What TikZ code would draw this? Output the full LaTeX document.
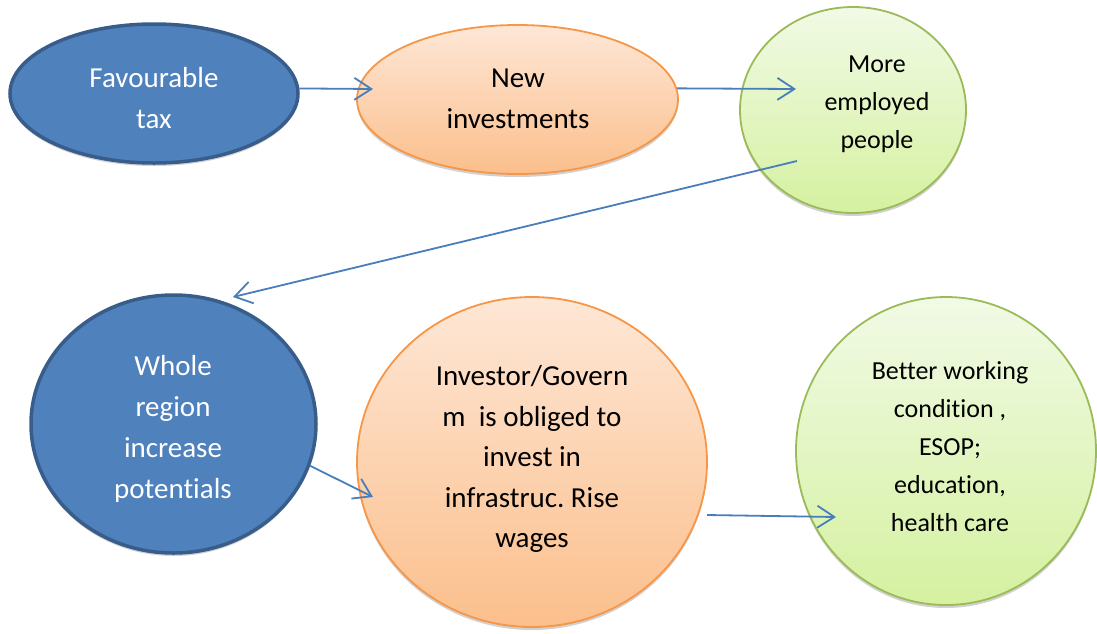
\documentclass[tikz,border=0pt]{standalone}
\usepackage{fontspec}
\setmainfont{Carlito}[Ligatures=NoCommon]
\usetikzlibrary{shapes.geometric,arrows.meta,shadows}
\frenchspacing

\definecolor{bluefill}{HTML}{4F81BD}
\definecolor{blueline}{HTML}{385D8A}
\definecolor{orangetop}{HTML}{FEE7D6}
\definecolor{orangebot}{HTML}{FBBF8C}
\definecolor{orangeline}{HTML}{F79646}
\definecolor{greentop}{HTML}{F1FAE6}
\definecolor{greenbot}{HTML}{D5F1A0}
\definecolor{greenline}{HTML}{9BBB59}
\definecolor{arrowblue}{HTML}{4A7EBB}

\tikzset{
  bubble/.style={ellipse, inner sep=0pt, drop shadow={shadow xshift=0pt, shadow yshift=-3pt, opacity=0.18, fill=black}},
  bluebubble/.style={bubble, fill=bluefill, draw=blueline, line width=3.5pt},
  orangebubble/.style={bubble, top color=orangetop, bottom color=orangebot, draw=orangeline, line width=1.8pt},
  greenbubble/.style={bubble, top color=greentop, bottom color=greenbot, draw=greenline, line width=1.8pt},
  bigtext/.style={align=center, inner sep=0pt, font=\fontsize{29}{41}\selectfont},
  midtext/.style={align=center, inner sep=0pt, font=\fontsize{29}{40.5}\selectfont},
  smalltext/.style={align=center, inner sep=0pt, font=\fontsize{26}{38}\selectfont},
  conn/.style={draw=arrowblue, line width=1.8pt, -{Straight Barb[length=17pt,width=22pt,line width=1.8pt]}}
}

\begin{document}
\begin{tikzpicture}[x=1pt, y=-1pt]
\useasboundingbox (0,0) rectangle (1097,633);
\coordinate (inv-in) at (373,89);
\coordinate (emp-in) at (796,89);
\coordinate (emp-out) at (797,161);
\coordinate (region-in) at (233,297);
\coordinate (obl-in) at (373,497);
\coordinate (obl-out) at (707,515);
\coordinate (better-in) at (836,517);
	\node[bluebubble, minimum width=288pt, minimum height=139pt] (tax) at (154,93.5) {};
	\node[orangebubble, minimum width=321pt, minimum height=149pt] (inv) at (517.5,99.5) {};
	\node[greenbubble, minimum width=226pt, minimum height=206pt] (emp) at (853,110) {};
	\node[bluebubble, minimum width=285pt, minimum height=258pt] (region) at (173.5,424) {};
	\node[orangebubble, minimum width=350pt, minimum height=330pt] (obl) at (532,462) {};
	\node[greenbubble, minimum width=300pt, minimum height=308pt] (better) at (946,451) {};
	\node[bigtext, text=white] (tax-txt) at (154,98) {Favourable\\tax};
	\node[bigtext] (inv-txt) at (518,99) {New\\investments};
	\node[smalltext] (emp-txt) at (877,104) {More\\employed\\people};
	\begin{scope}
	\clip (0,0) rectangle (1097,501);
	\node[bigtext, text=white] (region-txt) at (173,429) {Whole\\region\\increase\\potentials};
	\end{scope}
	\node[midtext] (obl-txt) at (532,459) {Investor/Govern\\m~~is obliged to\\invest in\\infrastruc. Rise\\wages};
	\node[smalltext] (better-txt) at (950,447) {Better working\\condition ,\\ESOP;\\education,\\health care};
	\draw[conn] (tax.2) -- (inv-in);
	\draw[conn] (inv.4) -- (emp-in);
	\draw[conn] (emp-out) -- (region-in);
	\draw[conn] (region.-17) -- (obl-in);
	\draw[conn] (obl-out) -- (better-in);
\end{tikzpicture}
\end{document}
